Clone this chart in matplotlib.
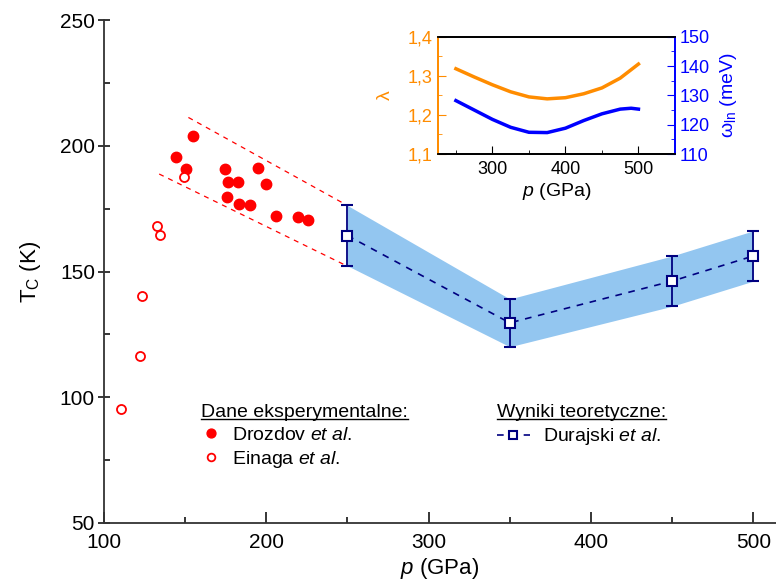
import numpy as np
import matplotlib
matplotlib.use('Agg')
import matplotlib.pyplot as plt
from matplotlib.lines import Line2D
from matplotlib.ticker import MultipleLocator, FuncFormatter

plt.rcParams['font.family'] = ['Liberation Sans', 'DejaVu Sans']
plt.rcParams['mathtext.fontset'] = 'custom'
plt.rcParams['mathtext.rm'] = 'Liberation Sans'
plt.rcParams['mathtext.it'] = 'Liberation Sans:italic'

# Drozdov et al. (filled)
p_drozdov = [154.7, 144.6, 150.7, 174.6, 194.7, 176.2, 182.6, 199.6, 175.6,
             183.0, 190.0, 205.8, 219.8, 225.9]
T_drozdov = [203.9, 195.4, 190.6, 190.6, 191.0, 185.7, 185.7, 184.7, 179.7,
             176.7, 176.3, 172.2, 171.8, 170.7]

# Einaga et al. (open)
p_einaga = [149.5, 132.5, 134.7, 123.4, 122.4, 110.5]
T_einaga = [187.7, 168.1, 164.4, 140.4, 116.5, 95.4]

# guide lines around experimental data
p_guide_up = [152.0, 248.5]
T_guide_up = [211.3, 176.8]
p_guide_lo = [134.0, 248.5]
T_guide_lo = [188.8, 152.6]

# Durajski et al. (theory)
p_theory = np.array([250, 350, 450, 500])
T_theory = np.array([164.3, 129.6, 146.2, 156.2])
T_err = np.array([12.0, 9.5, 10.0, 10.0])

# inset: lambda and omega_ln
p_lam = [250, 275, 300, 325, 350, 375, 400, 425, 450, 475, 500]
lam = [1.318, 1.297, 1.277, 1.259, 1.246, 1.241, 1.244, 1.254, 1.269, 1.294, 1.330]
p_omega = [250, 275, 300, 325, 350, 375, 400, 425, 450, 475, 490, 500]
omega = [128.2, 125.0, 121.8, 119.1, 117.4, 117.3, 118.8, 121.4, 123.7, 125.3, 125.6, 125.3]

red = '#FF0000'
navy = '#000080'
band = '#93C6F0'
orange = '#FF8C00'
blue = '#0000FF'

fig = plt.figure(figsize=(7.76, 5.84), dpi=100)
ax = fig.add_axes([0.134, 0.1045, 0.866, 0.861])

ax.fill_between(p_theory, T_theory - T_err, T_theory + T_err, color=band, lw=0)
ax.plot(p_guide_up, T_guide_up, '--', color=red, lw=0.9, dashes=(4, 4))
ax.plot(p_guide_lo, T_guide_lo, '--', color=red, lw=0.9, dashes=(4, 4))
h_d, = ax.plot(p_drozdov, T_drozdov, 'o', color=red, ms=7.5, ls='none',
               label='Drozdov $\\mathit{et\\ al.}$')
h_e, = ax.plot(p_einaga, T_einaga, 'o', mfc='white', mec=red, mew=1.3, ms=6.5,
               ls='none', label='Einaga $\\mathit{et\\ al.}$')
ax.errorbar(p_theory, T_theory, yerr=T_err, fmt='none', ecolor=navy, elinewidth=1.3,
            capsize=4.5, capthick=1.5, zorder=3)
h_t, = ax.plot(p_theory, T_theory, '--s', color=navy, mfc='white', mec=navy, mew=1.5,
               ms=6.5, lw=1.2, dashes=(4, 4), label='Durajski $\\mathit{et\\ al.}$', zorder=4)

ax.set_xlim(100, 514)
ax.set_ylim(50, 250)
ax.spines['top'].set_visible(False)
ax.spines['right'].set_visible(False)
for s in ['left', 'bottom']:
    ax.spines[s].set_linewidth(1.3)
    ax.spines[s].set_color('#333333')
ax.xaxis.set_major_locator(MultipleLocator(100))
ax.xaxis.set_minor_locator(MultipleLocator(50))
ax.yaxis.set_major_locator(MultipleLocator(50))
ax.yaxis.set_minor_locator(MultipleLocator(25))
ax.tick_params(axis='x', which='both', direction='in', labelsize=15, pad=7)
ax.tick_params(axis='x', which='major', length=8, width=1.1)
ax.tick_params(axis='x', which='minor', length=4, width=1.1)
ax.tick_params(axis='y', which='major', direction='inout', length=9, width=1.1, labelsize=15, pad=2)
ax.tick_params(axis='y', which='minor', direction='in', length=4, width=1.1)
ax.set_xlabel('$p$ (GPa)', fontsize=16, labelpad=3)
ax.set_ylabel('T$_\\mathrm{C}$ (K)', fontsize=16, labelpad=12)

leg1 = ax.legend(handles=[h_d, h_e], title='Dane eksperymentalne:', loc='upper left',
                 bbox_to_anchor=(0.13, 0.255), frameon=False, fontsize=14, title_fontsize=14,
                 handlelength=1.0, handletextpad=0.6, labelspacing=0.25, borderpad=0,
                 markerscale=0.85, alignment='left')
ax.add_artist(leg1)
leg2 = ax.legend(handles=[h_t], title='Wyniki teoretyczne:', loc='upper left',
                 bbox_to_anchor=(0.57, 0.255), frameon=False, fontsize=14, title_fontsize=14,
                 handlelength=1.7, handletextpad=0.7, labelspacing=0.25, borderpad=0,
                 markerscale=0.8, alignment='left')

# inset
axi = fig.add_axes([0.564, 0.7363, 0.3058, 0.2009])
axi.plot(p_lam, lam, color=orange, lw=2.5)
axi.set_xlim(225, 550)
axi.set_ylim(1.1, 1.4)
axr = axi.twinx()
axr.plot(p_omega, omega, color=blue, lw=2.5)
axr.set_ylim(110, 150)

for a in (axi, axr):
    for s in a.spines.values():
        s.set_linewidth(1.3)
    a.spines['left'].set_color(orange)
    a.spines['right'].set_color(blue)
axi.xaxis.set_major_locator(MultipleLocator(100))
axi.xaxis.set_minor_locator(MultipleLocator(50))
axi.yaxis.set_major_locator(MultipleLocator(0.1))
axi.yaxis.set_minor_locator(MultipleLocator(0.05))
axi.yaxis.set_major_formatter(FuncFormatter(lambda v, _: f'{v:.1f}'.replace('.', ',')))
axr.yaxis.set_major_locator(MultipleLocator(10))
axr.yaxis.set_minor_locator(MultipleLocator(5))
axi.tick_params(axis='x', which='both', direction='in', labelsize=13, pad=5)
axi.tick_params(axis='x', which='major', length=6)
axi.tick_params(axis='x', which='minor', length=3)
axi.tick_params(axis='y', which='both', direction='in', colors=orange, labelsize=13)
axi.tick_params(axis='y', which='major', length=6)
axi.tick_params(axis='y', which='minor', length=3)
axr.tick_params(axis='y', which='both', direction='in', colors=blue, labelsize=13)
axr.tick_params(axis='y', which='major', length=6)
axr.tick_params(axis='y', which='minor', length=3)
axi.set_xlabel('$p$ (GPa)', fontsize=14, labelpad=2)
axi.set_ylabel('λ', color=orange, fontsize=14, labelpad=10)
axr.set_ylabel('ω$_\\mathrm{ln}$ (meV)', color=blue, fontsize=14, labelpad=6)

# underline the legend titles
fig.canvas.draw()
r = fig.canvas.get_renderer()
for lg in (leg1, leg2):
    bb = lg.get_title().get_window_extent(r)
    x0, y0 = fig.transFigure.inverted().transform((bb.x0, bb.y0 + 2))
    x1, _ = fig.transFigure.inverted().transform((bb.x1, bb.y0 + 2))
    fig.add_artist(Line2D([x0, x1], [y0, y0], color='black', lw=1.0))

fig.savefig('out.png', dpi=100)
